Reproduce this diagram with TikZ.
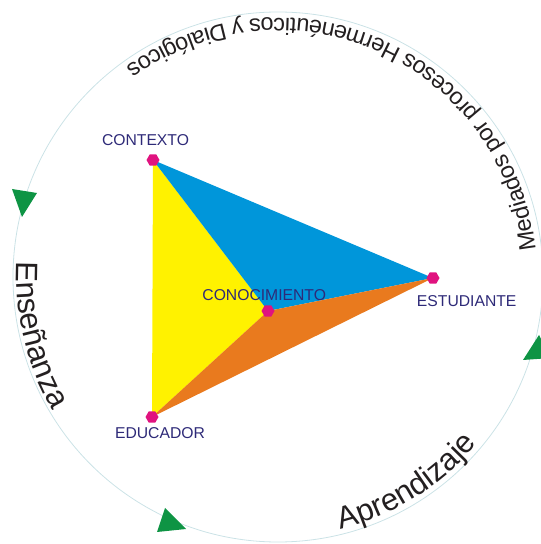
\documentclass[tikz,border=0pt]{standalone}
\usepackage{fontspec}
\setmainfont{Liberation Sans}
\usetikzlibrary{shapes.geometric,decorations.text,calc}
\definecolor{ringc}{HTML}{CBE2E6}
\definecolor{arrowg}{HTML}{0E9444}
\definecolor{dotm}{HTML}{E0137F}
\definecolor{yel}{HTML}{FFF200}
\definecolor{blu}{HTML}{0096DA}
\definecolor{ora}{HTML}{E97A1E}
\definecolor{lblc}{HTML}{2E2A78}
\definecolor{arcc}{HTML}{231F20}
\begin{document}
\begin{tikzpicture}[x=1pt,y=1pt,
  dot/.style={regular polygon, regular polygon sides=6, minimum size=13pt, inner sep=0pt, fill=dotm, draw=none},
  lbl/.style={text=lblc, font=\fontsize{15.7}{18}\selectfont, inner sep=0pt, anchor=base},
  arrowtri/.style={fill=arrowg, draw=none},
  ring/.style={draw=ringc, line width=0.8pt}]
\useasboundingbox (0,0) rectangle (541,544);
\clip (0,0) rectangle (541,544);
\coordinate (C) at (278,267);
\draw[ring] (C) circle[radius=265];
% curved texts
\path[decorate, decoration={text along path, text align=center, text color=arcc,
  text={|\fontsize{31}{36}\selectfont|Enseñanza}}]
  ($(C)+(158.6:261.5)$) arc[start angle=158.6, end angle=228.6, radius=261.5];
\path[decorate, decoration={text along path, text align=center, text color=arcc,
  text={|\fontsize{31}{36}\selectfont|Aprendizaje}}]
  ($(C)+(262:260)$) arc[start angle=262, end angle=342, radius=260];
\path[decorate, decoration={text along path, text align=center, text color=arcc,
  text={|\fontsize{23.5}{28}\selectfont|Mediados por procesos Hermenéuticos y Dialógicos}}]
  ($(C)+(-12:259)$) arc[start angle=-12, end angle=144, radius=259];
% arrow triangles
\fill[arrowtri] (12,355) -- (37,351) -- (22,327) -- cycle;
\fill[arrowtri] (165,36) -- (157,12) -- (186,15) -- cycle;
\fill[arrowtri] (539,209) -- (523,184) -- (551,186) -- cycle;
% vertices
\coordinate (pctx) at (153,384);
\coordinate (pest) at (433,266);
\coordinate (pcon) at (268,233);
\coordinate (pedu) at (152,127);
\fill[yel] (pctx) -- (pcon) -- (pedu) -- cycle;
\fill[blu] (pctx) -- (pest) -- (pcon) -- cycle;
\fill[ora] (pcon) -- (pest) -- (pedu) -- cycle;
\node[dot] (ctx) at (pctx) {};
\node[dot] (est) at (pest) {};
\node[dot] (con) at (pcon) {};
\node[dot] (edu) at (pedu) {};
\node[lbl] (lctx) at (145.5,398.3) {CONTEXTO};
\node[lbl] (lest) at (466.7,237.3) {ESTUDIANTE};
\node[lbl] (lcon) at (264.2,243.5) {CONOCIMIENTO};
\node[lbl] (ledu) at (160,105.7) {EDUCADOR};
\end{tikzpicture}
\end{document}
